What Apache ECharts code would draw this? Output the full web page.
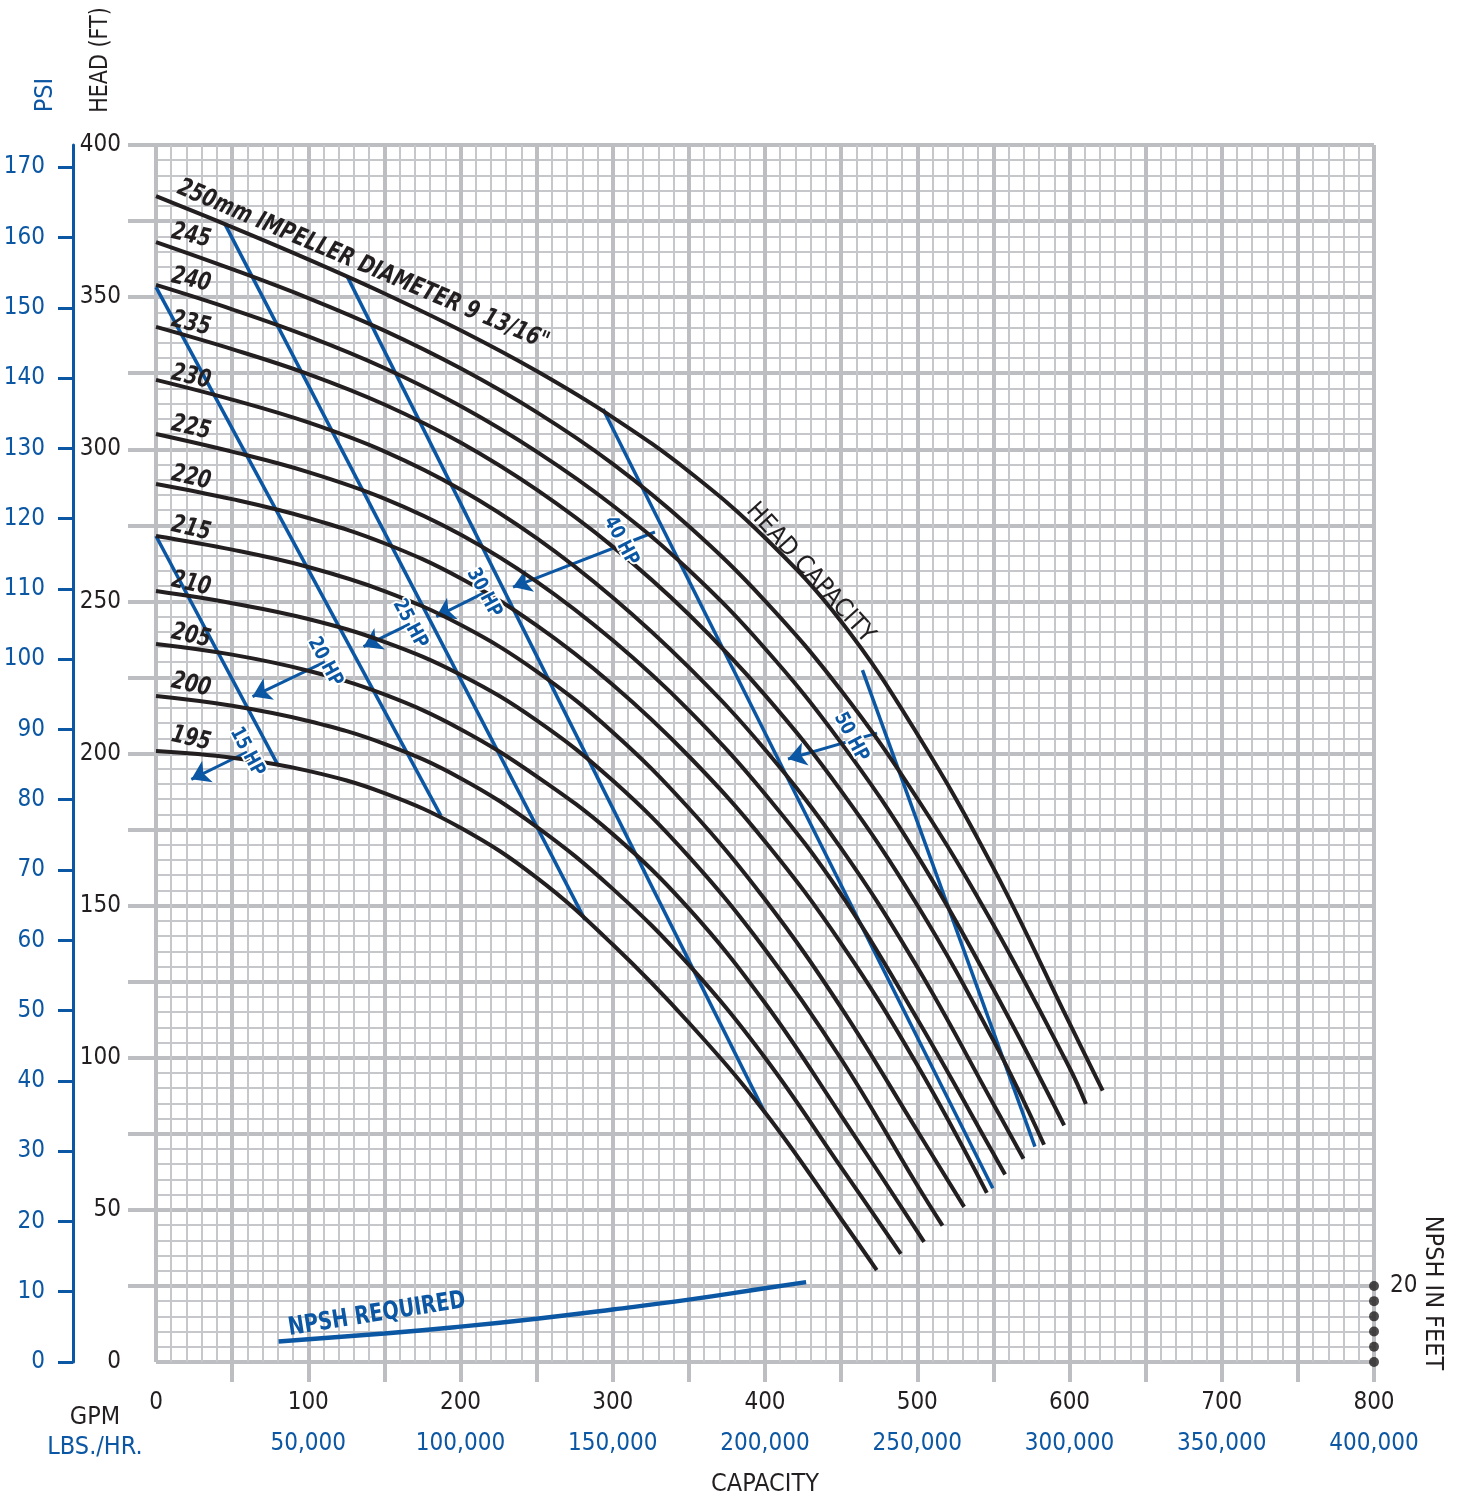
<!DOCTYPE html>
<html>
<head>
<meta charset="utf-8">
<script src="https://cdn.jsdelivr.net/npm/echarts@6/dist/echarts.min.js"></script>
<style>
html,body{margin:0;padding:0;background:#fff;}
#c{width:1460px;height:1499px;}
</style>
</head>
<body>
<div id="c"></div>
<script>
// ---------- DATA (GPM, head in feet) ----------
const curve250 = [[0,383.2],[50,373.0],[100,362.4],[150,351.2],[200,339.1],[250,325.7],[300,310.5],[350,292.7],[400,270.9],[450,243.4],[500,206.4],[550,162.4],[600,111.4],[621.8,89.2]];
const curve245 = [[0,368.1],[50,359.2],[100,349.7],[150,339],[200,326.6],[250,312.2],[300,295.2],[350,274.7],[400,250.2],[450,220.7],[500,185.2],[550,143.7],[600,96.7],[610.8,84.8]];
const curve240 = [[0,354],[50,346],[100,337.1],[150,326.7],[200,314.2],[250,299.2],[300,281.5],[350,260.3],[400,234.5],[450,203.5],[500,166.5],[550,122.5],[596.5,77.8]];
const curve235 = [[0,340.2],[50,332.9],[100,324.7],[150,314.7],[200,302.2],[250,286.7],[300,268],[350,245.7],[400,219.2],[450,187.7],[500,150.2],[550,105.7],[583.3,71.4]];
const curve230 = [[0,322.8],[50,316.3],[100,308.8],[150,299.3],[200,286.8],[250,270.8],[300,251.3],[350,228.3],[400,201.3],[450,168.8],[500,129.8],[550,84.8],[569.8,66.8]];
const curve225 = [[0,305],[50,299.2],[100,292.5],[150,283.8],[200,272],[250,256.5],[300,237.2],[350,214.2],[400,186.7],[450,153.7],[500,112.7],[550,68.5],[557.7,61.6]];
const curve220 = [[0,288.6],[50,283.6],[100,277.4],[150,269.1],[200,257.6],[250,242.1],[300,222.6],[350,199.1],[400,171.1],[450,137.6],[500,97.6],[545.7,55.6]];
const curve215 = [[0,271.5],[50,267],[100,261.3],[150,253.4],[200,242.3],[250,227],[300,207],[350,182],[400,152],[450,116.5],[500,76],[530.8,51]];
const curve210 = [[0,253.4],[50,249.4],[100,244.2],[150,236.7],[200,225.9],[250,210.9],[300,191.1],[350,166.1],[400,135.6],[450,99.6],[500,58.1],[516.6,44.8]];
const curve205 = [[0,236],[50,232.5],[100,227.2],[150,219.4],[200,208],[250,192.5],[300,173.5],[350,149],[400,118],[450,81],[504.5,39.5]];
const curve200 = [[0,218.9],[50,215.7],[100,210.7],[150,203.2],[200,191.9],[250,175.9],[300,155.5],[350,130.5],[400,100],[450,64],[489.2,35.5]];
const curve195 = [[0,200.8],[50,198.6],[100,194.3],[150,187],[200,175.6],[250,159.2],[300,137.2],[350,111.5],[400,82],[450,47],[473.4,30.2]];
const curveNames = ['250mm IMPELLER DIAMETER 9 13/16"', '245', '240', '235', '230', '225', '220', '215', '210', '205', '200', '195'];

// horsepower lines (GPM, head ft)
const hp15 = [[0,271.5],[80.1,196.2]];
const hp20 = [[0,353.3],[187.2,179.5]];
const hp25 = [[45.3,374.0],[281.8,145.3]];
const hp30 = [[125.5,356.9],[400,81.8]];
const hp40 = [[293.6,313.2],[549.6,57.1]];
const hp50 = [[464.0,227.4],[577.3,70.8]];
const hpNames = ['15 HP', '20 HP', '25 HP', '30 HP', '40 HP', '50 HP'];

// NPSH required (GPM, NPSH ft)
const npshRequired = [[80.5,5.4],[150,7.5],[200,9.3],[250,11.4],[300,13.8],[350,16.4],[400,19.4],[427,21.0]];
const npshScaleDots = [0,4,8,12,16,20];

// tick labels
const gpmTicks = [0,100,200,300,400,500,600,700,800];
const lbsTicks = [50000,100000,150000,200000,250000,300000,350000,400000];
const headTicks = [0,50,100,150,200,250,300,350,400];
const psiTicks = [0,10,20,30,40,50,60,70,80,90,100,110,120,130,140,150,160,170];
const npshAxisTicks = [20];
const gpmTickMarks = [50,100,150,200,250,300,350,400,450,500,550,600,650,700,750,800];
const headTickMarks = [25,50,75,100,125,150,175,200,225,250,275,300,325,350,375,400];

// ---------- STYLE ----------
const FONT = "'Liberation Sans Narrow','Arial Narrow','DejaVu Sans Condensed',sans-serif";
const BLACK = '#231f20';
const BLUE = '#0b57a4';
const GRID = '#bdbec1';
const GRID_MINOR = '#c6c7ca';

// annotation placements (data coordinates)
const curveLabelAt = [[136,360.5],[23,370.1],[23,355.6],[23,341.2],[23,323.7],[23,307.0],[23,290.6],[23,273.8],[23,255.7],[23,238.6],[23,222.5],[23,204.8]];
const hpLabelAt = [[59.8,200.5],[111,230.1],[166.8,242.6],[215.4,252.8],[305.4,269.8],[456.5,205.4]];
const hpArrowTail = [[59.8,200.5],[111,230.1],[166.8,242.6],[215.4,252.8],[327.7,272.8],[473.6,206.7]];
const hpArrowHead = [[23.2,191.5],[63.4,218.7],[136.3,235.1],[184.1,245.0],[234.5,254.7],[415.1,198.2]];

const chart = echarts.init(document.getElementById('c'), null, {renderer:'canvas', width:1460, height:1499});

const curves = [curve250, curve245, curve240, curve235, curve230, curve225, curve220, curve215, curve210, curve205, curve200, curve195];
const hps = [hp15, hp20, hp25, hp30, hp40, hp50];

const series = [];
curves.forEach((d, i) => {
  series.push({
    name: curveNames[i], type: 'line', xAxisIndex: 0, yAxisIndex: 0,
    data: d, smooth: 0.4, showSymbol: false, symbol: 'none', silent: true, z: 5,
    lineStyle: {color: BLACK, width: 4}
  });
});
hps.forEach((d, i) => {
  series.push({
    name: hpNames[i], type: 'line', xAxisIndex: 0, yAxisIndex: 0,
    data: d, showSymbol: false, symbol: 'none', silent: true, z: 4,
    lineStyle: {color: BLUE, width: 3.5},
    markLine: {
      silent: true, animation: false,
      symbol: ['none', 'arrow'], symbolSize: 18,
      lineStyle: {color: BLUE, width: 3, type: 'solid'},
      label: {show: false}, emphasis: {disabled: true},
      data: [[{coord: hpArrowTail[i]}, {coord: hpArrowHead[i]}]]
    }
  });
});
series.push({
  name: 'NPSH REQUIRED', type: 'line', xAxisIndex: 0, yAxisIndex: 2,
  data: npshRequired, smooth: true, showSymbol: false, symbol: 'none', silent: true, z: 5,
  lineStyle: {color: BLUE, width: 4.5}
});
series.push({
  name: 'NPSH scale', type: 'scatter', xAxisIndex: 0, yAxisIndex: 2,
  data: npshScaleDots.map(v => [800, v]), symbolSize: 10, silent: true, z: 6,
  itemStyle: {color: BLACK}
});

const option = {
  animation: false,
  backgroundColor: '#ffffff',
  grid: {left: 156, right: 86, top: 145, bottom: 137, containLabel: false, outerBoundsMode: 'none'},
  xAxis: [
    {
      type: 'value', min: 0, max: 800, interval: 50, position: 'bottom',
      axisLine: {show: false, onZero: false}, axisTick: {show: false},
      axisLabel: {customValues: gpmTicks, color: BLACK, fontSize: 24, fontFamily: FONT, margin: 29},
      splitLine: {show: true, lineStyle: {color: GRID, width: 4}},
      minorTick: {show: false, splitNumber: 5},
      minorSplitLine: {show: true, lineStyle: {color: GRID_MINOR, width: 2}}
    },
    {
      type: 'value', min: 0, max: 400000, position: 'bottom', offset: 41,
      axisLine: {show: false, onZero: false}, axisTick: {show: false}, splitLine: {show: false},
      axisLabel: {customValues: lbsTicks, color: BLUE, fontSize: 24, fontFamily: FONT, margin: 29,
        formatter: v => String(v).replace(/\B(?=(\d{3})+(?!\d))/g, ',')}
    },
    {
      type: 'value', min: 0, max: 800, position: 'bottom',
      axisLine: {show: false, onZero: false}, axisLabel: {show: false}, splitLine: {show: false},
      axisTick: {show: true, customValues: gpmTickMarks, length: 20, lineStyle: {color: GRID, width: 4}}
    }
  ],
  yAxis: [
    {
      type: 'value', min: 0, max: 400, interval: 25, position: 'left',
      axisLine: {show: false, onZero: false}, axisTick: {show: false},
      axisLabel: {customValues: headTicks, color: BLACK, fontSize: 24, fontFamily: FONT, margin: 35},
      splitLine: {show: true, lineStyle: {color: GRID, width: 4}},
      minorTick: {show: false, splitNumber: 5},
      minorSplitLine: {show: true, lineStyle: {color: GRID_MINOR, width: 2}}
    },
    {
      type: 'value', min: 0, max: 400 / 2.31, position: 'left', offset: 83,
      axisLine: {show: true, onZero: false, lineStyle: {color: BLUE, width: 3}},
      axisTick: {show: true, customValues: psiTicks, length: 15, lineStyle: {color: BLUE, width: 3}},
      axisLabel: {customValues: psiTicks, color: BLUE, fontSize: 24, fontFamily: FONT, margin: 28},
      splitLine: {show: false}
    },
    {
      type: 'value', min: 0, max: 320, position: 'right',
      axisLine: {show: false, onZero: false}, axisTick: {show: false}, splitLine: {show: false},
      axisLabel: {customValues: npshAxisTicks, color: BLACK, fontSize: 24, fontFamily: FONT, margin: 16}
    },
    {
      type: 'value', min: 0, max: 400, position: 'left',
      axisLine: {show: false, onZero: false}, axisLabel: {show: false}, splitLine: {show: false},
      axisTick: {show: true, customValues: headTickMarks, length: 28, lineStyle: {color: GRID, width: 4}}
    }
  ],
  series: series
};

chart.setOption(option);

// ---------- annotations placed through the chart's own scales ----------
const toPx = pt => chart.convertToPixel({seriesIndex: 0}, pt);
const elements = [];
function txt(px, text, o) {
  elements.push({
    type: 'text', x: px[0], y: px[1], rotation: (o.rot || 0) * Math.PI / 180,
    scaleX: o.sx || 1, z: 100, silent: true,
    style: {
      text: text, fill: o.color || BLACK, fontSize: o.size || 24, fontFamily: FONT,
      fontWeight: o.weight || 'normal', fontStyle: o.fstyle || 'normal',
      align: 'center', verticalAlign: 'middle',
      stroke: o.halo ? '#ffffff' : null, lineWidth: o.halo ? 4 : 0
    }
  });
}
curveNames.forEach((n, i) => {
  txt(toPx(curveLabelAt[i]), n, {rot: i === 0 ? -23 : -13, size: 25, sx: 0.84, weight: 'bold', fstyle: 'italic'});
});
hpNames.forEach((n, i) => {
  txt(toPx(hpLabelAt[i]), n, {rot: -62, size: 20, sx: 0.88, weight: 'bold', color: BLUE, halo: true});
});
txt(toPx([429.6, 259.3]), 'HEAD CAPACITY', {rot: -48, size: 25});
txt(toPx([145.1, 15.6]), 'NPSH REQUIRED', {rot: 9, size: 25, sx: 0.86, weight: 'bold', color: BLUE});

// axis titles
txt([100, 60], 'HEAD (FT)', {rot: 90, size: 25, sx: 0.92});
txt([45, 95], 'PSI', {rot: 90, size: 25, color: BLUE});
txt([95, 1417], 'GPM', {size: 25});
txt([95, 1447], 'LBS./HR.', {size: 25, color: BLUE});
txt([765, 1484], 'CAPACITY', {size: 25});
txt([1432, 1293], 'NPSH IN FEET', {rot: -90, size: 25});

chart.setOption({graphic: {elements: elements}});
</script>
</body>
</html>
